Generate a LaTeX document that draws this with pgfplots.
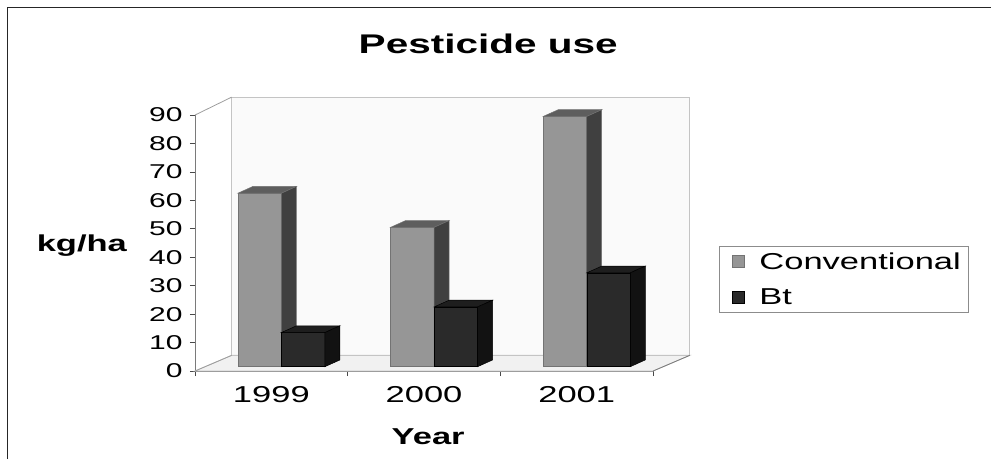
\documentclass[border=0pt]{standalone}
\usepackage{graphicx}
\usepackage{fontspec}
\setmainfont{Liberation Sans}
\usepackage{pgfplots}
\usepackage{pgfplotstable}
\pgfplotsset{compat=1.18}

\definecolor{convfront}{HTML}{969696}
\definecolor{convtop}{HTML}{5E5E5E}
\definecolor{convside}{HTML}{404040}
\definecolor{btfront}{HTML}{2A2A2A}
\definecolor{bttop}{HTML}{1E1E1E}
\definecolor{btside}{HTML}{121212}
\definecolor{wallfill}{HTML}{FAFAFA}
\definecolor{floorfill}{HTML}{F1F1F1}
\definecolor{wallline}{HTML}{C4C4C4}
\definecolor{axisline}{HTML}{7A7A7A}

% pesticide use in kg/ha
\pgfplotstableread{
year conv bt
1999 61 12
2000 49 21
2001 88 33
}\pesticide

\newcommand\wide[1]{\scalebox{1.5}[1]{#1}}

% column geometry (pt)
\def\yunit{2.844}  % pt per kg/ha
\def\barw{43.5}    % width of a front face
\def\depx{15}      % depth of a column
\def\depy{6.75}
\def\offx{10}      % columns stand a little behind the front edge
\def\offy{4.3}

% a column drawn from the centre of its front top edge: front, top and side
\newcommand\columnfaces[4]{%
  \pgfsetlinewidth{0.5pt}%
  \pgfsetstrokecolor{#4}%
  \pgfsetfillcolor{#1}%
  \pgfpathrectanglecorners{\pgfpoint{\offx pt-0.5*\barw pt}{\offy pt-\rawy*\yunit pt}}{\pgfpoint{\offx pt+0.5*\barw pt}{\offy pt}}%
  \pgfusepath{fill,stroke}%
  \pgfsetfillcolor{#2}%
  \pgfpathmoveto{\pgfpoint{\offx pt-0.5*\barw pt}{\offy pt}}%
  \pgfpathlineto{\pgfpoint{\offx pt+0.5*\barw pt}{\offy pt}}%
  \pgfpathlineto{\pgfpoint{\offx pt+0.5*\barw pt+\depx pt}{\offy pt+\depy pt}}%
  \pgfpathlineto{\pgfpoint{\offx pt-0.5*\barw pt+\depx pt}{\offy pt+\depy pt}}%
  \pgfpathclose
  \pgfusepath{fill,stroke}%
  \pgfsetfillcolor{#3}%
  \pgfpathmoveto{\pgfpoint{\offx pt+0.5*\barw pt}{\offy pt}}%
  \pgfpathlineto{\pgfpoint{\offx pt+0.5*\barw pt+\depx pt}{\offy pt+\depy pt}}%
  \pgfpathlineto{\pgfpoint{\offx pt+0.5*\barw pt+\depx pt}{\offy pt+\depy pt-\rawy*\yunit pt}}%
  \pgfpathlineto{\pgfpoint{\offx pt+0.5*\barw pt}{\offy pt-\rawy*\yunit pt}}%
  \pgfpathclose
  \pgfusepath{fill,stroke}%
}
\pgfdeclareplotmark{convcolumn}{\columnfaces{convfront}{convtop}{convside}{black!55}}
\pgfdeclareplotmark{btcolumn}{\columnfaces{btfront}{bttop}{btside}{black}}

\begin{document}
\begin{tikzpicture}
\useasboundingbox (0,0) rectangle (991pt,459pt);
\draw[line width=1.8pt, black!85] (7.5pt,0pt) -- (7.5pt,451.5pt) -- (991pt,451.5pt);
\begin{axis}[
  at={(195pt,88pt)}, anchor=south west,
  x=152.7pt, y=2.844pt,
  xmin=0, xmax=3, ymin=0, ymax=90,
  clip=false,
  axis lines=left,
  axis line style={-, draw=axisline, line width=0.8pt},
  tick align=outside,
  major tick length=5pt,
  tick style={draw=axisline!60!black, line width=0.8pt},
  xtick={0,1,2,3}, xticklabels={},
  extra x ticks={0.5,1.5,2.5},
  extra x tick labels={\wide{1999},\wide{2000},\wide{2001}},
  extra x tick style={major tick length=0pt},
  xticklabel style={font=\fontsize{23}{27}\selectfont, yshift=-12pt},
  ytick={0,10,...,90},
  yticklabel={\wide{\pgfmathprintnumber{\tick}}},
  yticklabel style={font=\fontsize{20}{24}\selectfont, xshift=-4pt},
  /pgf/number format/assume math mode=true,
  title={\wide{Pesticide use}},
  title style={at={(rel axis cs:0.64,1.254)}, anchor=center, font=\bfseries\fontsize{27}{31}\selectfont},
  xlabel={\wide{Year}},
  xlabel style={at={(rel axis cs:0.509,-0.258)}, anchor=center, font=\bfseries\fontsize{23}{27}\selectfont},
  ylabel={\wide{kg/ha}},
  ylabel style={at={(rel axis cs:-0.247,0.488)}, anchor=center, rotate=-90, font=\bfseries\fontsize{23}{27}\selectfont},
  legend style={at={(rel axis cs:1.144,0.488)}, anchor=north west,
    draw=black!45, line width=0.8pt, font=\fontsize{23}{27}\selectfont,
    row sep=14pt, inner xsep=6pt, inner ysep=4pt},
  legend cell align=left,
]
% back wall, floor and the edges of the left side
\addplot[fill=wallfill, draw=wallline, line width=0.8pt, mark=none, forget plot]
  coordinates {(0.24,5.5) (3.24,5.5) (3.24,96.3) (0.24,96.3)} -- cycle;
\addplot[fill=floorfill, draw=wallline, line width=0.8pt, mark=none, forget plot]
  coordinates {(0,0) (3,0) (3.24,5.5) (0.24,5.5)} -- cycle;
\addplot[draw=wallline!80!black, line width=0.8pt, mark=none, forget plot]
  coordinates {(0,0) (0.24,5.5)};
\addplot[draw=wallline!80!black, line width=0.8pt, mark=none, forget plot]
  coordinates {(0,90) (0.24,96.3)};
\addplot[draw=axisline, line width=0.8pt, mark=none, forget plot]
  coordinates {(3,0) (3.24,5.5)};

% columns
\addplot[only marks, mark=convcolumn, visualization depends on={rawy \as \rawy},
  legend image code/.code={\path[draw=none, fill=none] (0pt,-6pt) rectangle (32pt,6pt);
    \draw[draw=black!55, fill=convfront, line width=0.5pt] (7pt,-6pt) rectangle (19pt,6pt);}]
  table[x expr=\coordindex+0.3575, y=conv] {\pesticide};
\addlegendentry{\wide{Conventional}}
\addplot[only marks, mark=btcolumn, visualization depends on={rawy \as \rawy},
  legend image code/.code={\path[draw=none, fill=none] (0pt,-6pt) rectangle (32pt,6pt);
    \draw[draw=black, fill=btfront, line width=0.5pt] (7pt,-6pt) rectangle (19pt,6pt);}]
  table[x expr=\coordindex+0.6425, y=bt] {\pesticide};
\addlegendentry{\wide{Bt}}
\end{axis}
\end{tikzpicture}
\end{document}
